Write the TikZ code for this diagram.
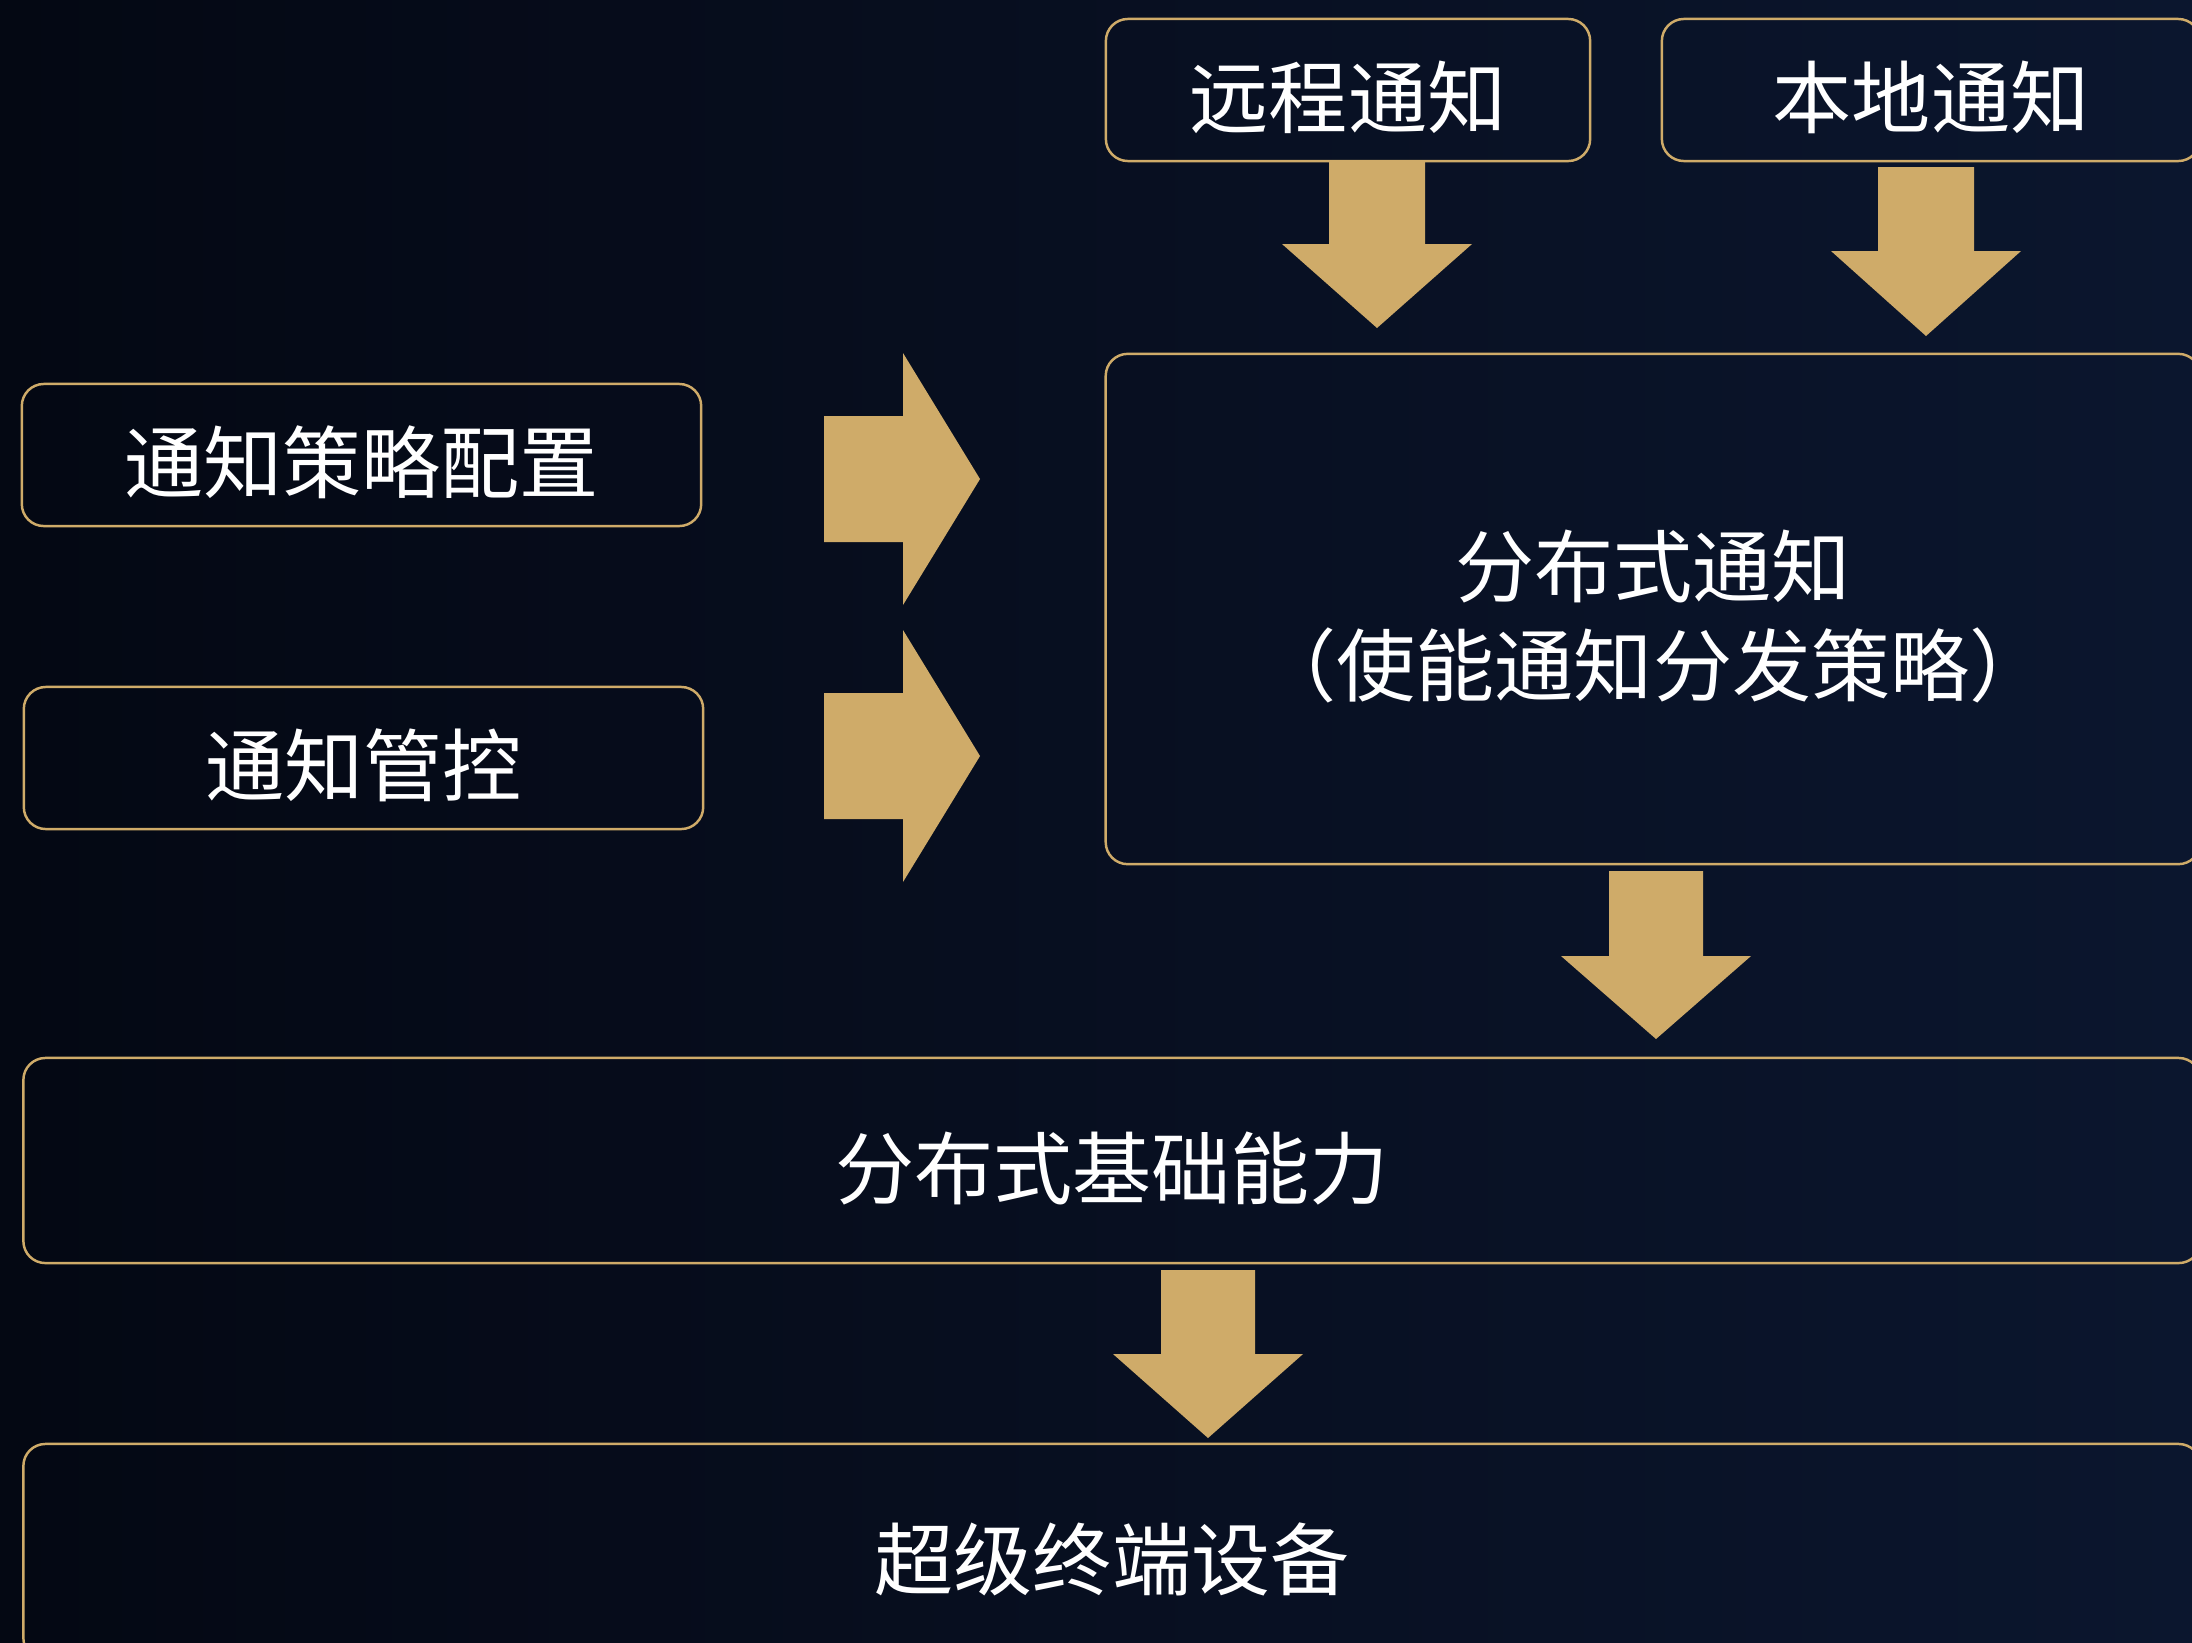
\documentclass[tikz,border=0pt]{standalone}
\usepackage{fontspec}
\setmainfont{Noto Sans CJK SC}
\usetikzlibrary{calc}
\definecolor{gold}{HTML}{CFAB69}
\definecolor{bgL}{HTML}{040813}
\definecolor{bgR}{HTML}{0B162E}
\newcommand{\dn}[1]{\raisebox{-2.2pt}[\height][\depth]{#1}}
\newcommand{\blkdown}[6]{% x, ytop, yhead, ytip, shaft half, head half
  \fill[gold] (#1-#5,#2) -- (#1+#5,#2) -- (#1+#5,#3) -- (#1+#6,#3) -- (#1,#4) -- (#1-#6,#3) -- (#1-#5,#3) -- cycle;}
\newcommand{\blkright}[6]{% y, xleft, xhead, xtip, shaft half, head half
  \fill[gold] (#2,#1-#5) -- (#3,#1-#5) -- (#3,#1-#6) -- (#4,#1) -- (#3,#1+#6) -- (#3,#1+#5) -- (#2,#1+#5) -- cycle;}
\begin{document}
\begin{tikzpicture}[x=0.01cm,y=-0.01cm,
  box/.style={draw=gold, line width=0.7pt, rounded corners=0.22cm, text=white,
    font=\fontsize{22.5pt}{28pt}\selectfont, align=center, inner sep=0pt}]
\clip (0,0) rectangle (2192,1642);
\shade[left color=bgL, right color=bgR] (0,0) rectangle (2192,1642);

% boxes
\node[box, minimum width=4.84cm, minimum height=1.42cm] (remote) at (1348,90) {\dn{远程通知}};
\node[box, minimum width=5.38cm, minimum height=1.42cm] (local) at (1931,90) {\dn{本地通知}};
\node[box, minimum width=10.94cm, minimum height=5.10cm] (dist) at (1653,609) {\dn{分布式通知}\\\dn{（使能通知分发策略）}};
\node[box, minimum width=6.79cm, minimum height=1.42cm] (policy) at (361.5,455) {\dn{通知策略配置}};
\node[box, minimum width=6.79cm, minimum height=1.42cm] (ctrl) at (363.5,758) {\dn{通知管控}};
\node[box, minimum width=21.76cm, minimum height=2.05cm] (base) at (1112,1160.5) {\dn{分布式基础能力}};
\node[box, minimum width=21.76cm, minimum height=2.16cm] (super) at (1112,1552) {\dn{超级终端设备}};

% block arrows
\blkdown{1377}{161}{244}{328}{48}{95}
\blkdown{1926}{167}{251}{336}{48}{95}
\blkright{479}{824}{903}{980}{63}{126}
\blkright{756}{824}{903}{980}{63}{126}
\blkdown{1656}{871}{956}{1039}{47}{95}
\blkdown{1208}{1270}{1354}{1438}{47}{95}
\end{tikzpicture}
\end{document}
